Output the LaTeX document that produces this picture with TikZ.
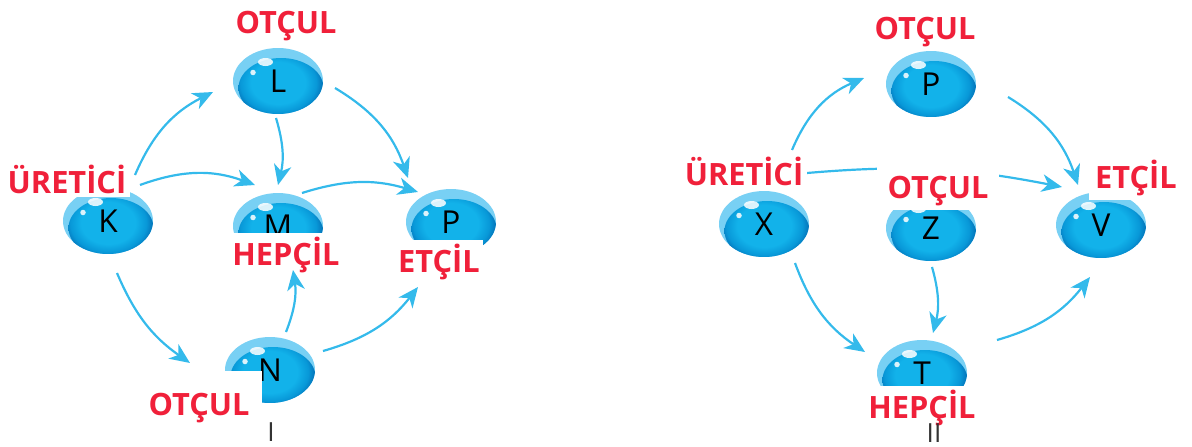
\documentclass[tikz,border=0pt]{standalone}
\usepackage{fontspec}
\setmainfont{Open Sans}
\usetikzlibrary{shapes.geometric,arrows.meta}
\definecolor{bubblelight}{RGB}{120,208,244}
\definecolor{bubblein}{RGB}{18,178,234}
\definecolor{bubblemid}{RGB}{8,152,216}
\definecolor{bubbleout}{RGB}{4,112,182}
\definecolor{tagred}{RGB}{240,32,58}
\definecolor{flowblue}{RGB}{52,186,235}
\pgfdeclareradialshading{bubbleshade}{\pgfpoint{0bp}{0bp}}{color(0bp)=(bubblein); color(15bp)=(bubblein); color(21bp)=(bubblemid); color(25bp)=(bubbleout); color(50bp)=(bubbleout)}

\begin{document}
\begin{tikzpicture}[x=0.02cm,y=0.02cm]
\tikzstyle{every node}+=[inner sep=0pt]
\tikzstyle{bubble}=[ellipse,minimum width=1.8cm,minimum height=1.32cm,outer sep=0pt,
  fill=bubblelight,text=black,font=\fontsize{18}{18}\selectfont,
  path picture={
    \shade [shading=bubbleshade] ([xshift=0.06cm,yshift=-0.14cm]path picture bounding box.center) ellipse (0.85cm and 0.6cm);
    \fill [white,opacity=0.85] ([xshift=-0.25cm,yshift=0.38cm]path picture bounding box.center) ellipse (0.15cm and 0.08cm);
    \fill [white,opacity=0.85] ([xshift=-0.5cm,yshift=0.17cm]path picture bounding box.center) circle (0.055cm);
  }]
\tikzstyle{tag}=[anchor=base,fill=white,text=tagred,inner sep=2pt,text depth=0pt,
  font=\bfseries\fontsize{17.5}{18}\selectfont]
\tikzstyle{numeral}=[anchor=base,text=black!80,font=\fontsize{15}{15}\selectfont]
\tikzstyle{flow}=[draw=flowblue,line width=1.25pt,-{Stealth[length=11.5pt,width=10pt,inset=3.5pt]}]
\useasboundingbox (0,0) rectangle (1192,-446);
% web I
\node [bubble] (K) at (108,-221) {K};
\node [bubble] (L) at (278,-81) {L};
\node [bubble] (M) at (278,-226) {M};
\node [bubble] (Pone) at (451,-222) {P};
\node [bubble] (N) at (270,-370) {N};
% web II
\node [bubble] (X) at (764,-224) {X};
\node [bubble] (Ptwo) at (931,-84) {P};
\node [bubble] (Z) at (931,-228) {Z};
\node [bubble] (V) at (1101,-225) {V};
\node [bubble] (T) at (922,-373) {T};
% arrows I
\draw [flow] ([shift={(27,46)}]K.center) to [bend left=20] ([shift={(-65,-11)}]L.center);
\draw [flow] ([shift={(32,36)}]K.center) to [bend left=20] ([shift={(-23,41)}]M.center);
\draw [flow] ([shift={(-2,-37)}]L.center) to [bend left=15] ([shift={(0,41)}]M.center);
\draw [flow] ([shift={(57,-7)}]L.center) to [bend left=20] ([shift={(-43,44)}]Pone.center);
\draw [flow] ([shift={(24,33)}]M.center) to [bend left=17] ([shift={(-33,30)}]Pone.center);
\draw [flow] ([shift={(9,-52)}]K.center) to [bend right=16] ([shift={(-80,7)}]N.center);
\draw [flow] ([shift={(16,38)}]N.center) to [bend right=15] ([shift={(15,-44)}]M.center);
\draw [flow] ([shift={(53,19)}]N.center) to [bend right=18] ([shift={(-33,-65)}]Pone.center);
% arrows II
\draw [flow] ([shift={(28,74)}]X.center) to [bend left=22] ([shift={(-67,6)}]Ptwo.center);
\draw [flow] ([shift={(43,51)}]X.center) to [bend left=8] ([shift={(-39,38)}]V.center);
\draw [flow] ([shift={(77,-13)}]Ptwo.center) to [bend left=20] ([shift={(-23,40)}]V.center);
\draw [flow] ([shift={(31,-39)}]X.center) to [bend right=18] ([shift={(-57,21)}]T.center);
\draw [flow] ([shift={(1,-39)}]Z.center) to [bend left=15] ([shift={(11,40)}]T.center);
\draw [flow] ([shift={(75,33)}]T.center) to [bend right=18] ([shift={(-11,-52)}]V.center);
% labels
\node [tag] (Ltag) at (286,-34) {OTÇUL};
\node [tag] (Ktag) at (67,-193) {ÜRETİCİ};
\node [tag] (Mtag) at (286,-265) {HEPÇİL};
\node [tag] (Ponetag) at (439,-272) {ETÇİL};
\node [tag,text height=23pt,inner xsep=7pt] (Ntag) at (199,-415) {OTÇUL};
\node [tag] (Ptwotag) at (925,-40) {OTÇUL};
\node [tag] (Xtag) at (744,-185) {ÜRETİCİ};
\node [tag,text height=17pt,text depth=4.8pt,inner xsep=6pt] (Ztag) at (938,-198) {OTÇUL};
\node [tag,text depth=4.8pt,inner xsep=3.5pt] (Vtag) at (1136,-188) {ETÇİL};
\node [tag] (Ttag) at (922,-418) {HEPÇİL};
\node [numeral] (numI) at (271,-441) {I};
\node [numeral] (numII) at (934,-442) {II};
\end{tikzpicture}
\end{document}
